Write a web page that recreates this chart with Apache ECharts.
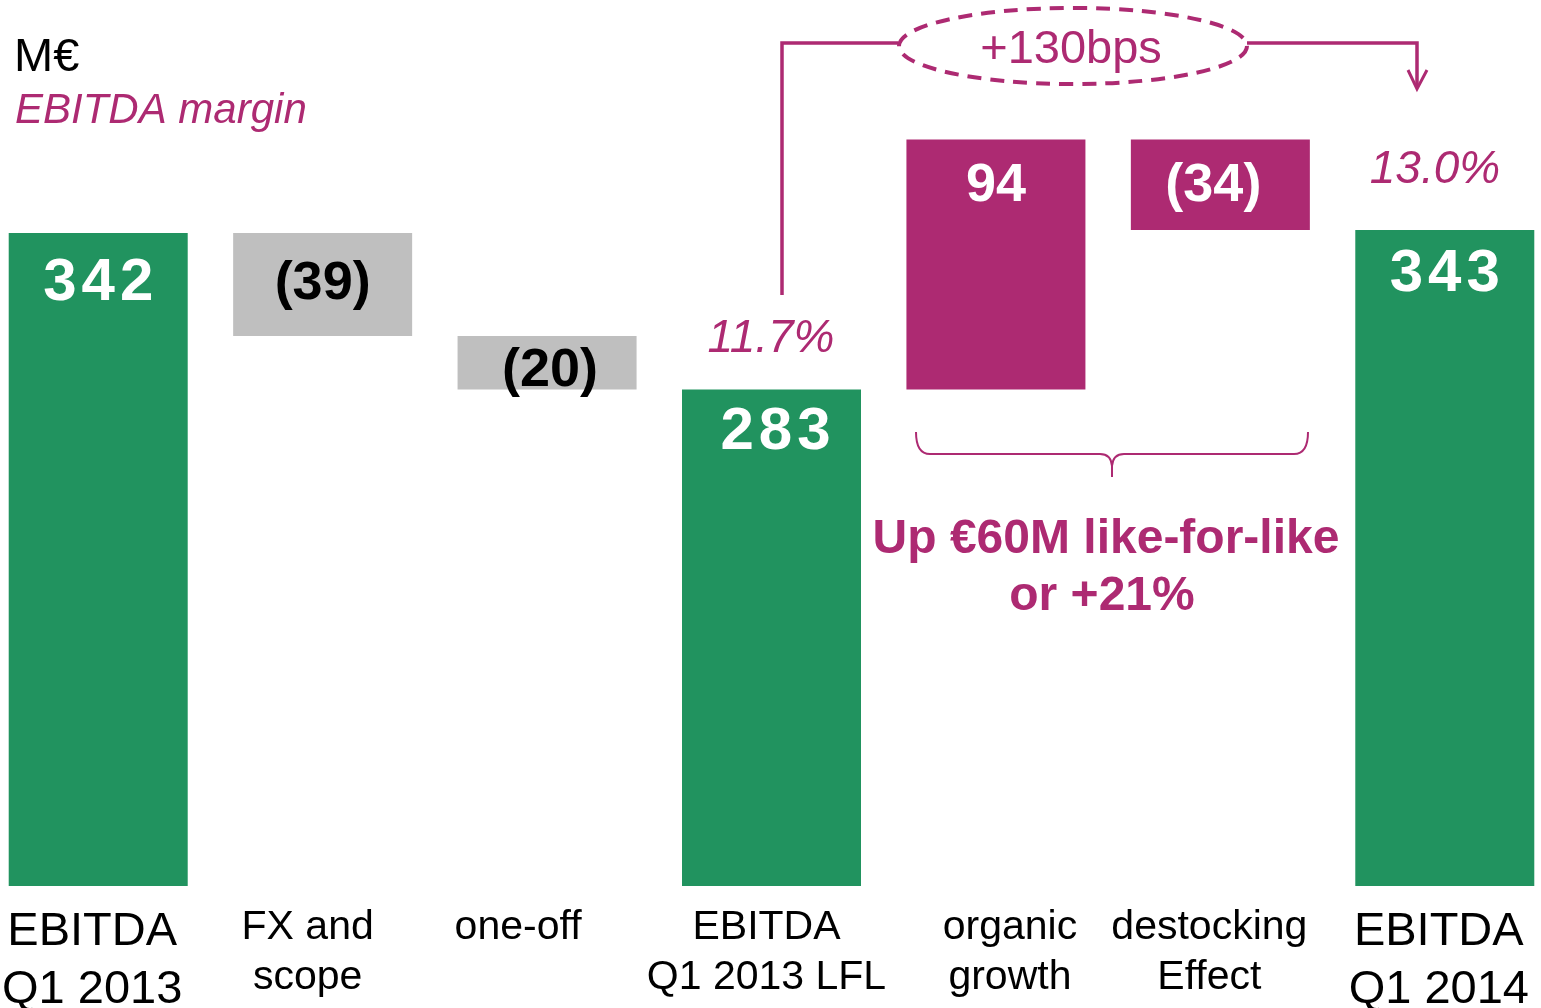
<!DOCTYPE html>
<html>
<head>
<meta charset="utf-8">
<title>EBITDA Q1 2013 - Q1 2014</title>
<script src="https://cdn.jsdelivr.net/npm/echarts@6/dist/echarts.min.js"></script>
<style>
html, body { margin: 0; padding: 0; background: #fff; }
#chart { width: 1541px; height: 1008px; }
</style>
</head>
<body>
<div id="chart"></div>
<script>
// categories of the bridge
var categories = ['EBITDA\nQ1 2013', 'FX and\nscope', 'one-off', 'EBITDA\nQ1 2013 LFL', 'organic\ngrowth', 'destocking\nEffect', 'EBITDA\nQ1 2014'];
// values written on the blocks (M€)
var values = [342, -39, -20, 283, 94, -34, 343];
// the slide is not drawn to scale: floor and top of every block as drawn, on the scale of the 342 bar
var drawnBase = [0, 288, 260, 0, 260, 343.5, 0];
var drawnTop = [342, 342, 288, 260, 391, 391, 343.5];
var kinds = ['total', 'fx', 'fx', 'total', 'lfl', 'lfl', 'total'];
// EBITDA margin
var marginLFL = '11.7%';
var marginQ1 = '13.0%';
var marginGain = '+130bps';

var GREEN = '#21935f';
var PINK = '#ad2a72';
var GREY = '#bfbfbf';
var FONT = 'Liberation Sans';

var colors = { total: GREEN, fx: GREY, lfl: PINK };

// label placing per block
var labelPos = [
    { position: 'insideTop', distance: 20 },
    { position: 'inside' },
    { position: 'inside', offset: [3, 8] },
    { position: 'insideTop', distance: 13, offset: [4, 0] },
    { position: 'insideTop', distance: 20 },
    { position: 'inside', offset: [-7, 1] },
    { position: 'insideTop', distance: 14 }
];

var visible = values.map(function (v, i) {
    return {
        value: drawnTop[i] - drawnBase[i],
        itemStyle: { color: colors[kinds[i]] },
        label: labelPos[i]
    };
});

var catStyle = ['b0', 's1', 's2', 's3', 's4', 's5', 'b6'];

function txt(text, x, y, size, color, extra) {
    var st = {
        text: text, x: x, y: y + 3, fill: color, fontSize: size, fontFamily: FONT,
        align: 'center', verticalAlign: 'middle', textAlign: 'center', textVerticalAlign: 'middle'
    };
    for (var k in extra) st[k] = extra[k];
    return { type: 'text', silent: true, style: st };
}

var chart = echarts.init(document.getElementById('chart'));
chart.setOption({
    animation: false,
    textStyle: { fontFamily: FONT },
    grid: { left: -14, right: -16, top: 0, bottom: 122, containLabel: false, outerBoundsMode: 'none' },
    xAxis: {
        type: 'category',
        data: categories,
        axisLine: { show: false },
        axisTick: { show: false },
        axisLabel: {
            interval: 0,
            margin: 17,
            color: '#000',
            fontFamily: FONT,
            hideOverlap: false,
            formatter: function (v, i) {
                var st = catStyle[i];
                return v.split('\n').map(function (l) { return '{' + st + '|' + l + '}'; }).join('\n');
            },
            rich: {
                b0: { fontSize: 47, lineHeight: 58, fontFamily: FONT, color: '#000', padding: [0, 12, 0, 0] },
                s1: { fontSize: 41, lineHeight: 50, fontFamily: FONT, color: '#000', padding: [0, 30, 0, 0] },
                s2: { fontSize: 41, lineHeight: 50, fontFamily: FONT, color: '#000', padding: [0, 58, 0, 0] },
                s3: { fontSize: 41, lineHeight: 50, fontFamily: FONT, color: '#000', padding: [0, 10, 0, 0] },
                s4: { fontSize: 41, lineHeight: 50, fontFamily: FONT, color: '#000', padding: [0, 0, 0, 28] },
                s5: { fontSize: 41, lineHeight: 50, fontFamily: FONT, color: '#000', padding: [0, 22, 0, 0] },
                b6: { fontSize: 47, lineHeight: 58, fontFamily: FONT, color: '#000', padding: [0, 12, 0, 0] }
            }
        }
    },
    yAxis: { type: 'value', min: 0, max: 464, show: false, splitLine: { show: false } },
    series: [
        {
            type: 'bar',
            stack: 'bridge',
            barWidth: 179,
            silent: true,
            itemStyle: { color: 'transparent' },
            emphasis: { disabled: true },
            data: drawnBase
        },
        {
            type: 'bar',
            stack: 'bridge',
            barWidth: 179,
            silent: true,
            emphasis: { disabled: true },
            label: {
                show: true,
                fontFamily: FONT,
                formatter: function (p) {
                    var v = values[p.dataIndex];
                    var t = v < 0 ? '(' + (-v) + ')' : String(v);
                    var k = kinds[p.dataIndex];
                    if (k === 'total') {
                        return t.split('').map(function (c) { return '{g|' + c + '}'; }).join('');
                    }
                    return '{' + (k === 'fx' ? 'k' : 'm') + '|' + t + '}';
                },
                rich: {
                    g: { color: '#fff', fontSize: 60, fontWeight: 'bold', fontFamily: FONT, padding: [0, 2.5, 0, 2.5] },
                    m: { color: '#fff', fontSize: 54, fontWeight: 'bold', fontFamily: FONT },
                    k: { color: '#000', fontSize: 54, fontWeight: 'bold', fontFamily: FONT }
                }
            },
            data: visible
        }
    ],
    graphic: [
        txt('M€', 14, 55, 47, '#000', { align: 'left', textAlign: 'left' }),
        txt('EBITDA margin', 15, 108, 42, PINK, { align: 'left', textAlign: 'left', fontStyle: 'italic' }),
        txt(marginLFL, 771, 336, 46, PINK, { fontStyle: 'italic' }),
        txt(marginQ1, 1435, 167, 46, PINK, { fontStyle: 'italic' }),
        txt(marginGain, 1071, 47, 47, PINK, {}),
        txt('Up €60M like-for-like', 1106, 537, 48, PINK, { fontWeight: 'bold' }),
        txt('or +21%', 1102, 594, 48, PINK, { fontWeight: 'bold' }),
        // margin arrow with dashed bubble
        { type: 'polyline', silent: true, shape: { points: [[782, 295], [782, 43], [898, 43]] }, style: { stroke: PINK, lineWidth: 3.5, fill: null } },
        { type: 'polyline', silent: true, shape: { points: [[1247, 43], [1417, 43], [1417, 88]] }, style: { stroke: PINK, lineWidth: 3.5, fill: null } },
        { type: 'polyline', silent: true, shape: { points: [[1408, 70], [1417, 89], [1427, 70]] }, style: { stroke: PINK, lineWidth: 3, fill: null } },
        { type: 'ellipse', silent: true, shape: { cx: 1073, cy: 46, rx: 174, ry: 38 }, style: { stroke: PINK, lineWidth: 4, lineDash: [14, 9], fill: null } },
        // brace under organic growth + destocking
        { type: 'bezierCurve', silent: true, shape: { x1: 916, y1: 432, cpx1: 916, cpy1: 454, x2: 930, y2: 454 }, style: { stroke: PINK, lineWidth: 2, fill: null } },
        { type: 'line', silent: true, shape: { x1: 930, y1: 454, x2: 1100, y2: 454 }, style: { stroke: PINK, lineWidth: 2 } },
        { type: 'bezierCurve', silent: true, shape: { x1: 1100, y1: 454, cpx1: 1111, cpy1: 454, x2: 1112, y2: 466 }, style: { stroke: PINK, lineWidth: 2, fill: null } },
        { type: 'bezierCurve', silent: true, shape: { x1: 1124, y1: 454, cpx1: 1113, cpy1: 454, x2: 1112, y2: 466 }, style: { stroke: PINK, lineWidth: 2, fill: null } },
        { type: 'line', silent: true, shape: { x1: 1112, y1: 466, x2: 1112, y2: 477 }, style: { stroke: PINK, lineWidth: 2 } },
        { type: 'line', silent: true, shape: { x1: 1124, y1: 454, x2: 1294, y2: 454 }, style: { stroke: PINK, lineWidth: 2 } },
        { type: 'bezierCurve', silent: true, shape: { x1: 1294, y1: 454, cpx1: 1308, cpy1: 454, x2: 1308, y2: 432 }, style: { stroke: PINK, lineWidth: 2, fill: null } }
    ]
});
</script>
</body>
</html>
